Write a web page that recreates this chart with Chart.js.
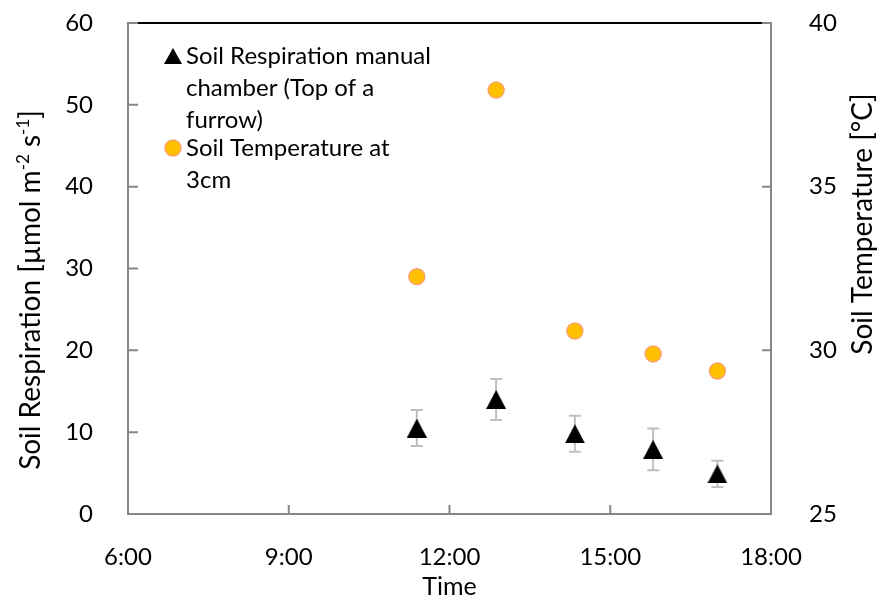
<!DOCTYPE html>
<html>
<head>
<meta charset="utf-8">
<script src="https://cdn.jsdelivr.net/npm/chart.js@4/dist/chart.umd.min.js"></script>
<style>
  html, body { margin: 0; padding: 0; background: #fff; }
  #wrap { width: 880px; height: 604px; }
</style>
</head>
<body>
<div id="wrap"><canvas id="graf"></canvas></div>
<script>
// dados: hora da medição (horas decimais), respiração e temperatura do solo
const horas = [11.39, 12.87, 14.34, 15.80, 17.00];
const respiracao = [10.5, 14.0, 9.8, 7.9, 4.9];
const resp_erro = [2.2, 2.5, 2.2, 2.55, 1.6];
const temperatura = [32.25, 37.95, 30.59, 29.89, 29.37];

const ticks_x = [6, 9, 12, 15, 18];
const legenda_resp = ['Soil Respiration manual', 'chamber (Top of a', 'furrow)'];
const legenda_temp = ['Soil Temperature at', '3cm'];

const FONTE = 'Lato, "Liberation Sans", sans-serif';
const CINZA = '#868686';

// marcador triangular (Excel-like, centrado na caixa)
function triangulo(w, h){
    const c = document.createElement('canvas');
    c.width = w; c.height = h;
    const g = c.getContext('2d');
    g.fillStyle = '#000';
    g.beginPath();
    g.moveTo(w / 2, 0);
    g.lineTo(w, h);
    g.lineTo(0, h);
    g.closePath();
    g.fill();
    return c;
}
const tri = triangulo(20, 19);

// eixos verticais: largura fixa, sem folga em cima/baixo
function fixaVertical(largura){
    return s => { s.width = largura; s.paddingTop = 0; s.paddingBottom = 0; };
}

//---------------------------------------------------------------------------
// moldura, ticks para dentro e barras de erro

const moldura = {
    id: 'moldura',
    beforeDatasetsDraw(chart){
        const ctx = chart.ctx;
        const a = chart.chartArea;
        const x = chart.scales.x, y = chart.scales.y, y2 = chart.scales.y2;
        ctx.save();
        ctx.lineWidth = 2;
        // topo preto
        ctx.strokeStyle = '#000';
        ctx.beginPath();
        ctx.moveTo(a.left, a.top); ctx.lineTo(a.right, a.top);
        ctx.stroke();
        // eixos cinzas
        ctx.strokeStyle = CINZA;
        ctx.beginPath();
        ctx.moveTo(a.left, a.top - 1); ctx.lineTo(a.left, a.bottom);
        ctx.lineTo(a.right, a.bottom); ctx.lineTo(a.right, a.top - 1);
        ctx.stroke();
        ctx.beginPath();
        y.ticks.forEach(t => {
            const py = y.getPixelForValue(t.value);
            ctx.moveTo(a.left, py); ctx.lineTo(a.left + 10, py);
        });
        y2.ticks.forEach(t => {
            const py = y2.getPixelForValue(t.value);
            ctx.moveTo(a.right, py); ctx.lineTo(a.right - 9, py);
        });
        x.ticks.forEach(t => {
            const px = x.getPixelForValue(t.value);
            ctx.moveTo(px, a.bottom); ctx.lineTo(px, a.bottom - 9);
        });
        ctx.stroke();

        // barras de erro
        ctx.strokeStyle = '#BFBFBF';
        ctx.lineWidth = 2;
        ctx.beginPath();
        for (let i = 0; i < horas.length; i++){
            const px = x.getPixelForValue(horas[i]);
            const topo = y.getPixelForValue(respiracao[i] + resp_erro[i]);
            const base = y.getPixelForValue(respiracao[i] - resp_erro[i]);
            ctx.moveTo(px, topo); ctx.lineTo(px, base);
            ctx.moveTo(px - 6, topo); ctx.lineTo(px + 6, topo);
            ctx.moveTo(px - 6, base); ctx.lineTo(px + 6, base);
        }
        ctx.stroke();
        ctx.restore();
    },
    afterDraw(chart){
        const ctx = chart.ctx;
        ctx.save();
        ctx.fillStyle = '#000';
        ctx.textBaseline = 'alphabetic';

        // titulo eixo esquerdo com expoentes
        ctx.translate(40, 290);
        ctx.rotate(-Math.PI / 2);
        const partes = [
            ['Soil Respiration [\u00b5mol m', 28, 0],
            ['-2', 17, -11],
            [' s', 28, 0],
            ['-1', 17, -11],
            [']', 28, 0]
        ];
        let total = 0;
        partes.forEach(p => { ctx.font = p[1] + 'px ' + FONTE; total += ctx.measureText(p[0]).width; });
        let cx = -total / 2;
        partes.forEach(p => {
            ctx.font = p[1] + 'px ' + FONTE;
            ctx.fillText(p[0], cx, p[2]);
            cx += ctx.measureText(p[0]).width;
        });
        ctx.setTransform(1, 0, 0, 1, 0, 0);

        // titulo eixo direito
        ctx.translate(872, 224);
        ctx.rotate(-Math.PI / 2);
        ctx.font = '28px ' + FONTE;
        ctx.textAlign = 'center';
        ctx.fillText('Soil Temperature [\u00b0C]', 0, 0);
        ctx.setTransform(1, 0, 0, 1, 0, 0);

        // legenda
        ctx.textAlign = 'left';
        ctx.textBaseline = 'middle';
        ctx.font = '24px ' + FONTE;
        const lx = 173, tx = 186, passo = 32;
        let ly = 56;
        ctx.beginPath();
        ctx.moveTo(lx, ly - 8); ctx.lineTo(lx + 9, ly + 8); ctx.lineTo(lx - 9, ly + 8);
        ctx.closePath();
        ctx.fill();
        legenda_resp.forEach((t, i) => ctx.fillText(t, tx, ly + i * passo));
        ly += legenda_resp.length * passo - 4;
        ctx.beginPath();
        ctx.arc(lx, ly, 8, 0, Math.PI * 2);
        ctx.fillStyle = '#FFC000';
        ctx.fill();
        ctx.strokeStyle = '#F9A46C';
        ctx.lineWidth = 1.5;
        ctx.stroke();
        ctx.fillStyle = '#000';
        legenda_temp.forEach((t, i) => ctx.fillText(t, tx, ly + i * passo));
        ctx.restore();
    }
};

//---------------------------------------------------------------------------
// gráfico

const grafico = document.getElementById('graf');
const graf = new Chart(grafico, {
    type: 'scatter',
    data: {
        datasets: [{
            label: 'Soil Temperature at 3cm',
            data: horas.map((h, i) => ({x: h, y: temperatura[i]})),
            yAxisID: 'y2',
            pointStyle: 'circle',
            pointRadius: 8,
            pointBackgroundColor: '#FFC000',
            pointBorderColor: '#F9A46C',
            pointBorderWidth: 1.5,
            showLine: false
        }, {
            label: 'Soil Respiration manual chamber (Top of a furrow)',
            data: horas.map((h, i) => ({x: h, y: respiracao[i]})),
            yAxisID: 'y',
            pointStyle: tri,
            showLine: false
        }]
    },
    options: {
        responsive: true,
        maintainAspectRatio: false,
        animation: false,
        layout: { autoPadding: false, padding: { top: 23, left: 0, right: 0, bottom: 0 } },
        plugins: {
            legend: { display: false },
            tooltip: { enabled: false }
        },
        scales: {
            x: {
                type: 'linear',
                min: 6, max: 18,
                afterBuildTicks: s => { s.ticks = ticks_x.map(v => ({value: v})); },
                afterFit: s => { s.height = 90; s.paddingLeft = 0; s.paddingRight = 0; },
                grid: { display: false },
                border: { display: false },
                ticks: {
                    padding: 21,
                    color: '#000',
                    font: { family: FONTE, size: 24 },
                    maxRotation: 0,
                    callback: v => v + ':00'
                },
                title: {
                    display: true,
                    text: 'Time',
                    color: '#000',
                    font: { family: FONTE, size: 25 },
                    padding: { top: 0, bottom: 2 }
                }
            },
            y: {
                position: 'left',
                min: 0, max: 60,
                afterFit: fixaVertical(128),
                grid: { display: false },
                border: { display: false },
                ticks: {
                    stepSize: 10,
                    padding: 27,
                    color: '#000',
                    font: { family: FONTE, size: 24 }
                }
            },
            y2: {
                position: 'right',
                min: 25, max: 40,
                afterFit: fixaVertical(109),
                grid: { display: false },
                border: { display: false },
                ticks: {
                    stepSize: 5,
                    padding: 30,
                    color: '#000',
                    font: { family: FONTE, size: 24 }
                }
            }
        }
    },
    plugins: [moldura]
});
</script>
</body>
</html>
